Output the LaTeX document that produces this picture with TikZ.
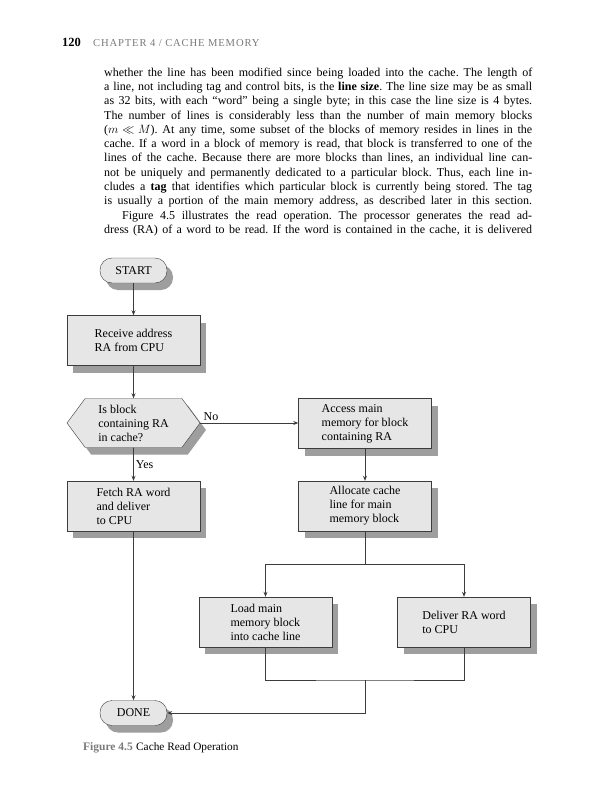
\documentclass[tikz,border=0pt]{standalone}
\usepackage{fontspec}
\setmainfont{Liberation Serif}
\usetikzlibrary{arrows.meta,shapes.misc,shapes.symbols,shadows}

\definecolor{boxfill}{HTML}{E6E6E6}
\definecolor{shadowgray}{HTML}{9E9E9E}
\definecolor{linegray}{HTML}{3C3C3C}
\definecolor{headgray}{HTML}{7A7A7A}

\newcommand{\fullline}[1]{\makebox[428pt][s]{\frenchspacing\spaceskip=.25em plus 1em minus .08em\relax #1}}

\begin{document}
\begin{tikzpicture}[x=1pt,y=-1pt,>={Stealth[length=5pt,width=4pt]},
  chart/.style={font=\fontsize{12}{14}\selectfont, align=left, inner sep=2pt},
  shade/.style={drop shadow={shadow xshift=6pt, shadow yshift=-7pt, fill=shadowgray, opacity=1}},
  procbox/.style={chart, shade, draw=linegray, fill=boxfill, minimum width=133pt, minimum height=50pt},
  termbox/.style={chart, shade, draw=linegray, fill=boxfill, rounded corners=12pt, minimum width=67pt, minimum height=25pt},
  testbox/.style={procbox, shape=signal, signal to=east and west, signal pointer angle=107, minimum height=49pt},
  flow/.style={draw=linegray, line width=0.8pt}]
  \useasboundingbox[fill=white] (0,0) rectangle (604,800);

  % running head and text
  \node[anchor=base west, inner sep=0pt, font=\bfseries\fontsize{12.5}{14}\selectfont] (pagenum) at (62,47) {120};
  \node[anchor=base west, inner sep=0pt, text=headgray, font=\fontsize{10.6}{13}\selectfont\addfontfeatures{LetterSpace=8}] (runhead) at (93,47) {CHAPTER 4 / CACHE MEMORY};
  \node[anchor=north west, inner sep=0pt, text width=428pt, align=left, font=\fontsize{12}{14.3}\selectfont] (body) at (104,67.5) {%
    \fullline{whether the line has been modified since being loaded into the cache. The length of}\\
    \fullline{a line, not including tag and control bits, is the \textbf{line size}. The line size may be as small}\\
    \fullline{as 32 bits, with each “word” being a single byte; in this case the line size is 4 bytes.}\\
    \fullline{The number of lines is considerably less than the number of main memory blocks}\\
    \fullline{($m \ll M$). At any time, some subset of the blocks of memory resides in lines in the}\\
    \fullline{cache. If a word in a block of memory is read, that block is transferred to one of the}\\
    \fullline{lines of the cache. Because there are more blocks than lines, an individual line can-}\\
    \fullline{not be uniquely and permanently dedicated to a particular block. Thus, each line in-}\\
    \fullline{cludes a \textbf{tag} that identifies which particular block is currently being stored. The tag}\\
    \fullline{is usually a portion of the main memory address, as described later in this section.}\\
    \fullline{\hspace*{18pt}Figure 4.5 illustrates the read operation. The processor generates the read ad-}\\
    \fullline{dress (RA) of a word to be read. If the word is contained in the cache, it is delivered}};

  % flowchart
  \node[termbox] (start) at (133.5,270.5) {START};
  \node[procbox] (recv) at (133.5,340.5) {Receive address\\RA from CPU};
  \node[testbox] (test) at (133.5,423) {Is block\\containing RA\\in cache?};
  \node[procbox] (access) at (365,423.5) {Access main\\memory for block\\containing RA};
  \node[procbox] (fetch) at (133.5,506) {Fetch RA word\\and deliver\\to CPU};
  \node[procbox] (alloc) at (365,506) {Allocate cache\\line for main\\memory block};
  \node[procbox] (load) at (265.5,622) {Load main\\memory block\\into cache line};
  \node[procbox] (deliver) at (464,622) {Deliver RA word\\to CPU};
  \node[termbox] (done) at (133.5,713) {DONE};
  \coordinate (fork) at (365,564);
  \coordinate (join) at (365,680);

  \draw[flow,->] (start) -- (recv);
  \draw[flow,->] (recv) -- (test);
  \draw[flow,->] (test.east) -- (access.west |- test.east)
    node[pos=0, anchor=south west, chart, xshift=1pt] (no) {No};
  \draw[flow,->] (test) -- (fetch) node[midway, right, chart] (yes) {Yes};
  \draw[flow,->] (access) -- (alloc);
  \draw[flow] (alloc) -- (fork);
  \draw[flow,->] (fork) -| (load.north);
  \draw[flow,->] (fork) -| (deliver.north);
  \draw[flow] (load.south) |- (join) -| (deliver.south);
  \draw[flow,->] (join) |- (done.east);
  \draw[flow,->] (fetch) -- (done);

  % caption
  \node[anchor=base west, inner sep=0pt, text=headgray, font=\bfseries\fontsize{11.5}{13}\selectfont] (figlabel) at (83,750) {Figure 4.5};
  \node[anchor=base west, inner sep=0pt, font=\fontsize{11.3}{13}\selectfont] (figtitle) at (136,750) {Cache Read Operation};
\end{tikzpicture}
\end{document}
